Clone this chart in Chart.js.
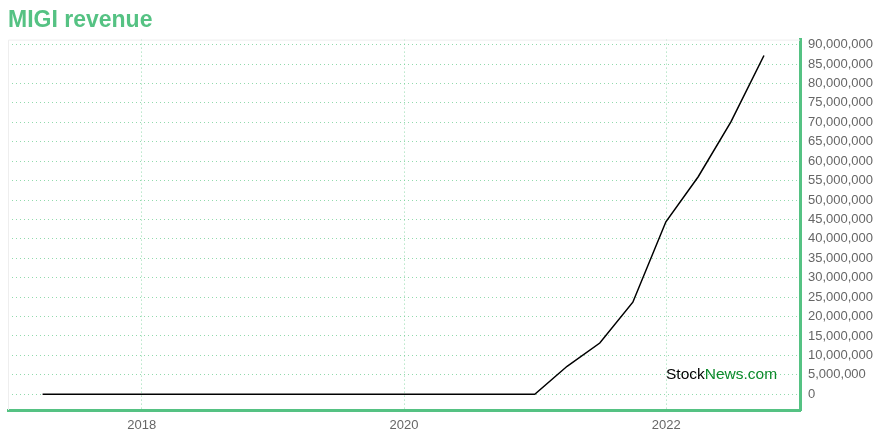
<!DOCTYPE html>
<html>
<head>
<meta charset="utf-8">
<title>MIGI revenue</title>
<script src="https://cdn.jsdelivr.net/npm/chart.js@4.4.1/dist/chart.umd.min.js"></script>
<style>
	html, body {
		margin: 0;
		padding: 0;
		background: #ffffff;
	}

	#wrap {
		width: 880px;
		height: 440px;
	}
</style>
</head>
<body>
<div id="wrap"><canvas id="revenue_chart" width="880" height="440"></canvas></div>
<script>
const title_text = "MIGI revenue"

// quarter end dates
const periods = [
	"2017-03-31", "2017-06-30", "2017-09-30", "2017-12-31",
	"2018-03-31", "2018-06-30", "2018-09-30", "2018-12-31",
	"2019-03-31", "2019-06-30", "2019-09-30", "2019-12-31",
	"2020-03-31", "2020-06-30", "2020-09-30", "2020-12-31",
	"2021-03-31", "2021-06-30", "2021-09-30", "2021-12-31",
	"2022-03-31", "2022-06-30", "2022-09-30"
]

const revenue = [
	0, 0, 0, 0,
	0, 0, 0, 0,
	0, 0, 0, 0,
	0, 0, 0, 0,
	7200000, 13200000, 23700000, 44400000,
	56000000, 70100000, 87200000
]

const year_ticks = [2018, 2020, 2022]

const revenue_ticks = [
	0, 5000000, 10000000, 15000000, 20000000, 25000000, 30000000,
	35000000, 40000000, 45000000, 50000000, 55000000, 60000000,
	65000000, 70000000, 75000000, 80000000, 85000000, 90000000
]

const green = "#55c283"
const grid_green = "rgba(110, 205, 145, 0.75)"
const font_family = "'Liberation Sans', Arial, Helvetica, sans-serif"

/**
 * Turn a yyyy-mm-dd string into a fractional year
 */
function to_year(date_str) {
	const d = new Date(date_str + "T00:00:00Z")
	const y = d.getUTCFullYear()
	const start = Date.UTC(y, 0, 1)
	const end = Date.UTC(y + 1, 0, 1)
	return y + (d.getTime() - start) / (end - start)
}

const points = periods.map((p, i) => ({ x: to_year(p), y: revenue[i] }))

// Watermark and faint frame on the plot area
const extras_plugin = {
	id: "extras",
	beforeDatasetsDraw(chart) {
		const { ctx, chartArea } = chart
		ctx.save()
		ctx.strokeStyle = "#eeeeee"
		ctx.lineWidth = 1
		ctx.beginPath()
		ctx.moveTo(chartArea.left + 0.5, chartArea.bottom)
		ctx.lineTo(chartArea.left + 0.5, chartArea.top + 0.5)
		ctx.lineTo(chartArea.right, chartArea.top + 0.5)
		ctx.stroke()
		ctx.restore()
	},
	afterDraw(chart) {
		const { ctx, chartArea } = chart
		ctx.save()
		ctx.font = "15.5px " + font_family
		ctx.textBaseline = "alphabetic"
		ctx.textAlign = "left"
		const x = chartArea.right - 134
		const y = chartArea.bottom - 31
		ctx.fillStyle = "#000000"
		ctx.fillText("Stock", x, y)
		const w = ctx.measureText("Stock").width
		ctx.fillStyle = "#0a8a2a"
		ctx.fillText("News.com", x + w, y)
		ctx.restore()
	}
}

new Chart(document.getElementById("revenue_chart"), {
	type: "line",
	data: {
		datasets: [{
			data: points,
			borderColor: "#000000",
			borderWidth: 1.5,
			pointRadius: 0,
			tension: 0,
			fill: false
		}]
	},
	options: {
		responsive: false,
		animation: false,
		layout: {
			padding: { left: 8, right: 0, top: 0, bottom: 0 }
		},
		plugins: {
			legend: { display: false },
			tooltip: { enabled: false },
			title: {
				display: true,
				text: title_text,
				align: "start",
				color: green,
				font: { family: font_family, size: 23, weight: "bold" },
				padding: { top: 7, bottom: 5 }
			}
		},
		scales: {
			x: {
				type: "linear",
				min: 2016.98,
				max: 2023.02,
				afterBuildTicks(axis) {
					axis.ticks = year_ticks.map(v => ({ value: v }))
				},
				afterFit(axis) {
					axis.height = 30
				},
				grid: {
					color: grid_green,
					drawTicks: false
				},
				border: {
					display: true,
					color: green,
					width: 3,
					dash: [1, 3]
				},
				ticks: {
					color: "#666666",
					padding: 8,
					maxRotation: 0,
					font: { family: font_family, size: 13 },
					callback: v => String(v)
				}
			},
			y: {
				position: "right",
				min: -4050000,
				max: 91300000,
				afterBuildTicks(axis) {
					axis.ticks = revenue_ticks.map(v => ({ value: v }))
				},
				afterFit(axis) {
					axis.width = 80
				},
				grid: {
					color: grid_green,
					drawTicks: false
				},
				border: {
					display: true,
					color: green,
					width: 3,
					dash: [1, 3]
				},
				ticks: {
					color: "#666666",
					padding: 8,
					font: { family: font_family, size: 13 },
					callback: v => Number(v).toLocaleString("en-US")
				}
			}
		}
	},
	plugins: [extras_plugin]
})
</script>
</body>
</html>
